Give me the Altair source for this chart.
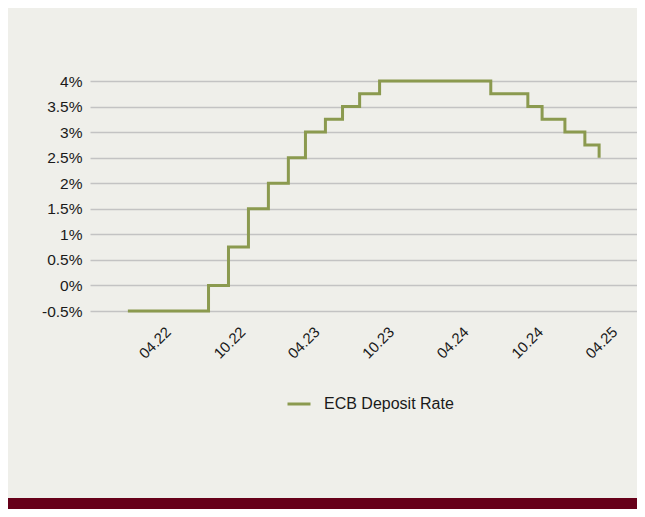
import altair as alt
import pandas as pd

# ---- data ----
dates = ["2022-01-10", "2022-07-27", "2022-09-14", "2022-11-02", "2022-12-21",
         "2023-02-08", "2023-03-22", "2023-05-10", "2023-06-21", "2023-08-02",
         "2023-09-20", "2024-06-19", "2024-09-18", "2024-10-23", "2024-12-18",
         "2025-02-05", "2025-03-12"]
rates = [-0.5, 0.0, 0.75, 1.5, 2.0, 2.5, 3.0, 3.25, 3.5, 3.75,
         4.0, 3.75, 3.5, 3.25, 3.0, 2.75, 2.5]
series_name = "ECB Deposit Rate"
tick_months = [(2022, 4), (2022, 10), (2023, 4), (2023, 10), (2024, 4), (2024, 10), (2025, 4)]
y_ticks = [-0.5, 0, 0.5, 1, 1.5, 2, 2.5, 3, 3.5, 4]

df = pd.DataFrame({"date": dates, "rate": rates, "series": [series_name] * len(dates)})

W, H = 547, 230
PAD = {"left": 82, "top": 73, "right": 0, "bottom": 198}
FONT = "Liberation Sans"
TXT = "#1a1a1a"

x_ticks = [alt.DateTime(year=y, month=m, date=1, utc=True) for y, m in tick_months]

line = alt.Chart(df).mark_line(interpolate="step-after", strokeWidth=3).encode(
    x=alt.X("date:T",
            scale=alt.Scale(type="utc",
                            domain=[alt.DateTime(year=2021, month=10, date=9, utc=True),
                                    alt.DateTime(year=2025, month=6, date=13, utc=True)]),
            axis=alt.Axis(values=x_ticks, format="%m.%y", labelAngle=315,
                          labelAlign="right", labelBaseline="middle",
                          labelPadding=18, labelOffset=7, ticks=False,
                          domain=False, grid=False, title=None,
                          labelFontSize=15, labelColor=TXT, labelFont=FONT)),
    y=alt.Y("rate:Q",
            scale=alt.Scale(domain=[-0.5, 4], nice=False, zero=False),
            axis=alt.Axis(values=y_ticks, labelExpr="datum.value + '%'",
                          grid=True, gridColor="#c3c3c3", gridWidth=1.5,
                          domain=False, ticks=False, labelPadding=8, title=None,
                          labelFontSize=15.5, labelColor=TXT, labelFont=FONT)),
    color=alt.Color("series:N", scale=alt.Scale(range=["#8b9a4f"]),
                    legend=alt.Legend(title=None, orient="none", legendX=196, legendY=310,
                                      symbolType="stroke", symbolSize=529,
                                      symbolStrokeWidth=3, labelFontSize=16,
                                      labelOffset=12, labelColor=TXT, labelFont=FONT)),
)

band = alt.Chart(pd.DataFrame({"k": [0]})).mark_rect(color="#660019").encode(
    x=alt.value(-PAD["left"]), x2=alt.value(W + 10),
    y=alt.value(417), y2=alt.value(430),
)

chart = alt.layer(band, line).properties(
    width=W, height=H,
    autosize=alt.AutoSizeParams(type="none"),
    padding=PAD,
    background="#efefea",
).configure_view(stroke=None)

chart.save("out.html", embed_options={"renderer": "svg", "actions": False})
